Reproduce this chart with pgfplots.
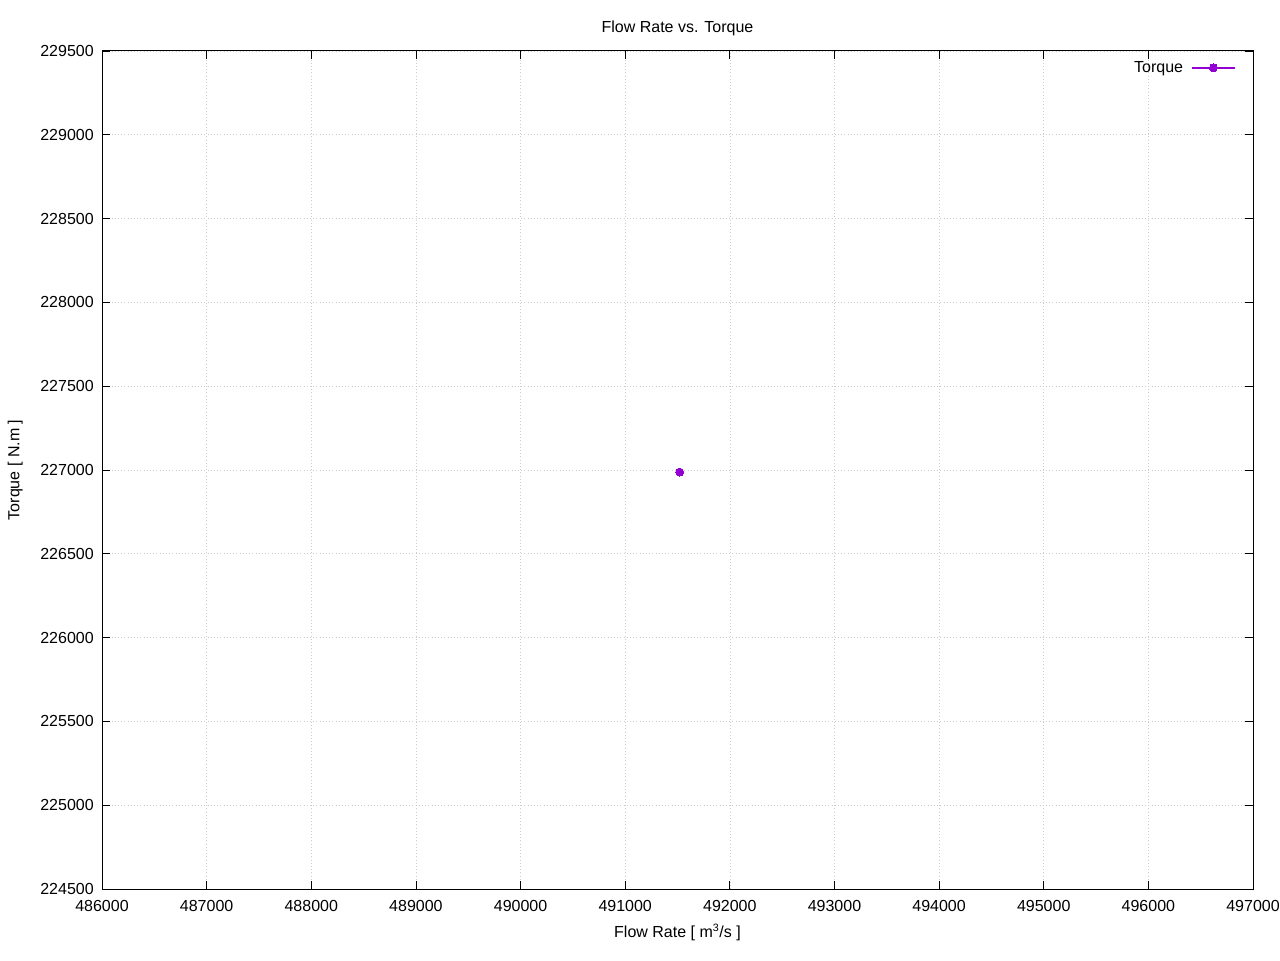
\documentclass[border=0pt]{standalone}
\usepackage{pgfplots}
\pgfplotsset{compat=1.18}
\usepackage{fontspec}
\setmainfont{Liberation Sans}
\definecolor{gpviolet}{HTML}{9400D3}
\begin{document}
\fontsize{12}{14}\selectfont
\begin{tikzpicture}
\useasboundingbox (0pt,0pt) rectangle (960pt,720pt);
\begin{axis}[
  at={(76.5pt,53.25pt)}, anchor=origin,
  scale only axis,
  width=863.25pt, height=628.5pt,
  xmin=486000, xmax=497000,
  ymin=224500, ymax=229500,
  xtick distance=1000, ytick distance=500,
  minor tick num=0,
  tick align=inside,
  major tick length=6pt,
  tick style={black, line width=0.6pt},
  axis line style={black, line width=0.75pt},
  grid=major,
  grid style={gray!40, dotted, line width=0.5pt},
  /pgf/number format/.cd, fixed, precision=0, 1000 sep={}, assume math mode=true,
  /pgfplots/.cd,
  scaled ticks=false,
  xticklabel style={yshift=-4.5pt, font=\fontsize{12}{14}\selectfont},
  yticklabel style={xshift=-2pt, font=\fontsize{12}{14}\selectfont},
  title={Flow Rate vs. Torque},
  title style={at={([yshift=7.5pt]axis description cs:0.5,1)}, anchor=base, font=\fontsize{12}{14}\selectfont},
  xlabel={Flow Rate [ m\textsuperscript{3}/s ]},
  ylabel={Torque [ N.m ]},
  xlabel style={at={([yshift=-36pt]axis description cs:0.5,0)}, anchor=base, font=\fontsize{12}{14}\selectfont},
  ylabel style={at={([xshift=-62pt]axis description cs:0,0.5)}, anchor=base, font=\fontsize{12}{14}\selectfont},
  legend plot pos=right,
  legend style={at={(0.9852,0.980)}, anchor=east, draw=none, fill=none,
    font=\fontsize{12}{14}\selectfont, inner sep=0pt, row sep=0pt},
  legend image code/.code={\draw[mark repeat=2,mark phase=2,#1] plot coordinates {(0pt,0pt) (16pt,0pt) (32pt,0pt)};},
]
\addplot[gpviolet, line width=1.5pt, mark=*, mark size=3pt, mark options={solid, line width=0pt}]
  coordinates {(491520,226988)};
\addlegendentry{Torque\rule{4pt}{0pt}}
\end{axis}
\end{tikzpicture}
\end{document}
